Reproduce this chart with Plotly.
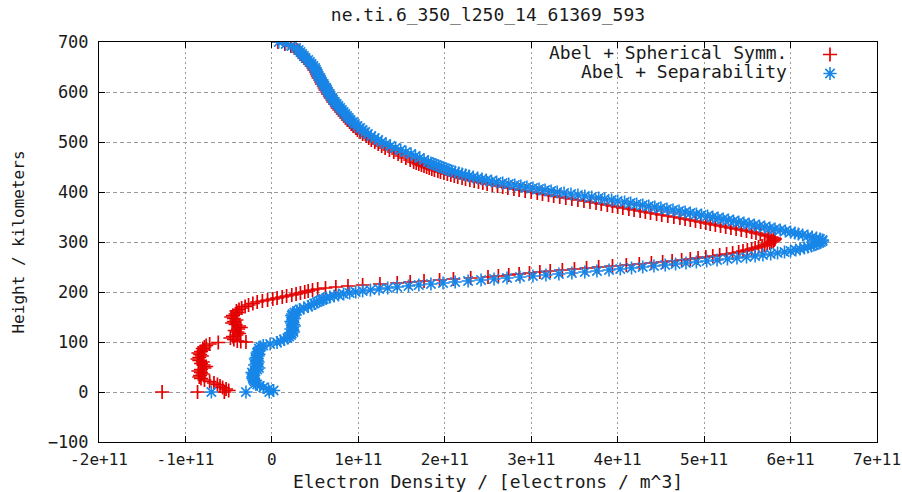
import plotly.graph_objects as go

# ---------------- data (density in units of 1e11 electrons / m^3) ----------------
SCALE = 1e11

H_LOW = list(range(0, 181, 3))      # 0 .. 180 km
H_MID = list(range(182, 461, 2))    # 182 .. 460 km
H_HIGH = list(range(464, 701, 4))   # 464 .. 700 km
HEIGHTS = H_LOW + H_MID + H_HIGH

SPH_LOW = [-0.55, -0.50, -0.53, -0.57, -0.60, -0.63, -0.67, -0.72, -0.78, -0.82,
           -0.84, -0.83, -0.80, -0.82, -0.85, -0.82, -0.78, -0.76, -0.79, -0.82,
           -0.80, -0.84, -0.86, -0.84, -0.81, -0.83, -0.85, -0.82, -0.79, -0.80,
           -0.78, -0.76, -0.72, -0.62, -0.40, -0.44, -0.48, -0.45, -0.41, -0.38,
           -0.40, -0.43, -0.39, -0.36, -0.38, -0.42, -0.46, -0.44, -0.41, -0.44,
           -0.47, -0.45, -0.42, -0.40, -0.41, -0.38, -0.35, -0.31, -0.27, -0.22,
           -0.17]
SPH_MID = [-0.11, -0.05, 0.01, 0.06, 0.12, 0.17, 0.23, 0.28, 0.33, 0.38,
           0.42, 0.47, 0.53, 0.62, 0.74, 0.88, 1.05, 1.25, 1.45, 1.60,
           1.76, 1.94, 2.10, 2.30, 2.50, 2.62, 2.74, 2.86, 2.98, 3.10,
           3.22, 3.36, 3.50, 3.64, 3.78, 3.94, 4.10, 4.25, 4.39, 4.52,
           4.63, 4.74, 4.84, 4.93, 5.02, 5.10, 5.18, 5.26, 5.33, 5.40,
           5.45, 5.50, 5.55, 5.59, 5.63, 5.67, 5.70, 5.73, 5.76, 5.78,
           5.80, 5.81, 5.82, 5.81, 5.78, 5.74, 5.70, 5.65, 5.60, 5.55,
           5.49, 5.43, 5.37, 5.31, 5.25, 5.19, 5.13, 5.07, 5.02, 4.96,
           4.90, 4.84, 4.78, 4.72, 4.65, 4.58, 4.51, 4.45, 4.38, 4.32,
           4.26, 4.19, 4.13, 4.06, 4.00, 3.94, 3.88, 3.81, 3.75, 3.68,
           3.61, 3.54, 3.47, 3.40, 3.33, 3.26, 3.20, 3.13, 3.07, 3.00,
           2.93, 2.86, 2.80, 2.73, 2.67, 2.61, 2.55, 2.49, 2.44, 2.39,
           2.34, 2.29, 2.24, 2.20, 2.15, 2.11, 2.07, 2.03, 1.99, 1.95,
           1.92, 1.88, 1.85, 1.82, 1.79, 1.76, 1.73, 1.70, 1.67, 1.64]
SPH_HIGH = [1.60, 1.55, 1.50, 1.46, 1.41, 1.36, 1.31, 1.27, 1.23, 1.19,
            1.15, 1.12, 1.09, 1.05, 1.02, 0.99, 0.97, 0.94, 0.92, 0.90,
            0.88, 0.86, 0.84, 0.82, 0.80, 0.78, 0.76, 0.75, 0.73, 0.71,
            0.70, 0.68, 0.67, 0.65, 0.64, 0.62, 0.61, 0.60, 0.58, 0.57,
            0.56, 0.54, 0.53, 0.52, 0.51, 0.49, 0.48, 0.46, 0.44, 0.42,
            0.40, 0.38, 0.36, 0.34, 0.32, 0.29, 0.26, 0.22, 0.15, 0.07]
SPH_EXTRA_H = [0, 0, 100, 101]
SPH_EXTRA_V = [-1.27, -0.86, -0.30, -0.36]

SEP_LOW = [-0.03, 0.02, -0.04, -0.10, -0.14, -0.17, -0.19, -0.20, -0.21, -0.22,
           -0.22, -0.21, -0.22, -0.23, -0.20, -0.17, -0.15, -0.17, -0.20, -0.18,
           -0.16, -0.17, -0.19, -0.18, -0.16, -0.15, -0.17, -0.16, -0.14, -0.15,
           -0.13, -0.10, -0.02, 0.06, 0.10, 0.14, 0.18, 0.20, 0.22, 0.23,
           0.25, 0.24, 0.22, 0.24, 0.26, 0.25, 0.23, 0.22, 0.24, 0.26,
           0.25, 0.23, 0.24, 0.26, 0.29, 0.32, 0.37, 0.42, 0.46, 0.49,
           0.52]
SEP_MID = [0.55, 0.58, 0.60, 0.63, 0.67, 0.72, 0.77, 0.83, 0.90, 0.97,
           1.05, 1.14, 1.24, 1.34, 1.45, 1.58, 1.70, 1.84, 1.98, 2.12,
           2.27, 2.42, 2.57, 2.72, 2.87, 3.02, 3.17, 3.32, 3.47, 3.62,
           3.76, 3.90, 4.03, 4.16, 4.29, 4.42, 4.55, 4.67, 4.79, 4.91,
           5.03, 5.15, 5.27, 5.38, 5.49, 5.59, 5.68, 5.77, 5.85, 5.93,
           6.00, 6.06, 6.11, 6.16, 6.20, 6.24, 6.27, 6.30, 6.33, 6.35,
           6.37, 6.37, 6.34, 6.30, 6.25, 6.20, 6.14, 6.09, 6.05, 6.00,
           5.94, 5.88, 5.82, 5.76, 5.70, 5.64, 5.58, 5.52, 5.46, 5.40,
           5.34, 5.28, 5.22, 5.16, 5.10, 5.04, 4.97, 4.91, 4.84, 4.78,
           4.71, 4.64, 4.57, 4.50, 4.43, 4.36, 4.29, 4.22, 4.15, 4.08,
           4.00, 3.93, 3.85, 3.78, 3.70, 3.62, 3.54, 3.46, 3.38, 3.30,
           3.23, 3.16, 3.09, 3.02, 2.95, 2.88, 2.81, 2.74, 2.67, 2.60,
           2.54, 2.48, 2.43, 2.38, 2.33, 2.28, 2.24, 2.20, 2.16, 2.12,
           2.08, 2.05, 2.02, 1.99, 1.96, 1.93, 1.90, 1.87, 1.84, 1.81]
SEP_HIGH = [1.76, 1.71, 1.66, 1.61, 1.55, 1.49, 1.43, 1.37, 1.32, 1.27,
            1.23, 1.19, 1.15, 1.11, 1.08, 1.05, 1.02, 0.99, 0.96, 0.94,
            0.91, 0.89, 0.87, 0.85, 0.83, 0.81, 0.79, 0.77, 0.75, 0.73,
            0.71, 0.70, 0.68, 0.67, 0.65, 0.64, 0.63, 0.61, 0.60, 0.58,
            0.57, 0.56, 0.54, 0.53, 0.52, 0.51, 0.50, 0.48, 0.46, 0.44,
            0.42, 0.39, 0.37, 0.35, 0.33, 0.31, 0.28, 0.23, 0.16, 0.08]
SEP_EXTRA_H = [0, 0]
SEP_EXTRA_V = [-0.70, -0.30]

SERIES_NAMES = ["Abel + Spherical Symm.", "Abel + Separability"]

X_TICK_VALUES = [-2, -1, 0, 1, 2, 3, 4, 5, 6, 7]
X_TICK_LABELS = ["-2e+11", "-1e+11", "0", "1e+11", "2e+11", "3e+11",
                 "4e+11", "5e+11", "6e+11", "7e+11"]
Y_TICK_VALUES = [-100, 0, 100, 200, 300, 400, 500, 600, 700]

TITLE = "ne.ti.6_350_l250_14_61369_593"
X_TITLE = "Electron Density / [electrons / m^3]"
Y_TITLE = "Height / kilometers"

# ---------------- figure ----------------
FONT = "DejaVu Sans Mono, Liberation Mono, monospace"
TXT = "#1a1a1a"
RED = "#e30000"
BLUE = "#1786e8"

sph_h = SPH_EXTRA_H + HEIGHTS
sph_x = [v * SCALE for v in SPH_EXTRA_V + SPH_LOW + SPH_MID + SPH_HIGH]
sep_h = SEP_EXTRA_H + HEIGHTS
sep_x = [v * SCALE for v in SEP_EXTRA_V + SEP_LOW + SEP_MID + SEP_HIGH]

fig = go.Figure()
fig.add_trace(go.Scatter(
    x=sph_x, y=sph_h, mode="markers", name="",
    marker=dict(symbol="cross-thin", size=10, color=RED,
                line=dict(color=RED, width=1.7)),
    hovertemplate=SERIES_NAMES[0] + "<br>%{x:.3e}, %{y} km<extra></extra>",
))
fig.add_trace(go.Scatter(
    x=sep_x, y=sep_h, mode="markers", name="",
    marker=dict(symbol="asterisk", size=11, color=BLUE,
                line=dict(color=BLUE, width=1.6)),
    hovertemplate=SERIES_NAMES[1] + "<br>%{x:.3e}, %{y} km<extra></extra>",
))

PL, PR, PT, PB = 99, 25, 42, 50
W, H = 902, 492
pw = W - PL - PR
ph = H - PT - PB

def px_to_paper_x(px):
    return (px - PL) / pw

def px_to_paper_y(py):
    return 1 - (py - PT) / ph

annotations = []
for i, name in enumerate(SERIES_NAMES):
    annotations.append(dict(
        text=name, xref="paper", yref="paper",
        x=px_to_paper_x(789), y=px_to_paper_y(53 + 19 * i),
        xanchor="right", yanchor="middle", showarrow=False,
        font=dict(family=FONT, size=18, color=TXT),
    ))

axis_common = dict(
    showline=True, linecolor="black", linewidth=1, mirror="ticks",
    ticks="inside", ticklen=6, tickcolor="black", tickwidth=1,
    showgrid=True, gridcolor="#9a9a9a", gridwidth=1,
    zeroline=False,
)

fig.update_layout(
    width=W, height=H,
    margin=dict(l=PL, r=PR, t=PT, b=PB, autoexpand=False),
    paper_bgcolor="white", plot_bgcolor="white",
    title=dict(text=TITLE, x=0.5, xref="paper", xanchor="center",
               y=1 - 15 / H, yref="container", yanchor="middle",
               font=dict(family=FONT, size=18, color=TXT)),
    xaxis=dict(
        range=[-2 * SCALE, 7 * SCALE],
        tickvals=[v * SCALE for v in X_TICK_VALUES], ticktext=X_TICK_LABELS,
        griddash="2px,3px", ticklabelstandoff=3, ticklabeloverflow="allow",
        tickfont=dict(family=FONT, size=16, color=TXT),
        title=dict(text=X_TITLE, standoff=10,
                   font=dict(family=FONT, size=18, color=TXT)),
        **axis_common,
    ),
    yaxis=dict(
        range=[-100, 700], tickvals=Y_TICK_VALUES,
        griddash="4px,3px", ticklabelstandoff=6,
        tickfont=dict(family=FONT, size=17, color=TXT),
        title=dict(text=Y_TITLE, standoff=19,
                   font=dict(family=FONT, size=16, color=TXT)),
        **axis_common,
    ),
    showlegend=True,
    legend=dict(x=px_to_paper_x(810), y=px_to_paper_y(40), xanchor="left", yanchor="top",
                bgcolor="rgba(0,0,0,0)", borderwidth=0,
                font=dict(family=FONT, size=11, color=TXT),
                itemwidth=30, tracegroupgap=0),
    annotations=annotations,
)

fig.write_html("out.html", config={"displayModeBar": False},
               post_script="document.body.style.margin='0';")
